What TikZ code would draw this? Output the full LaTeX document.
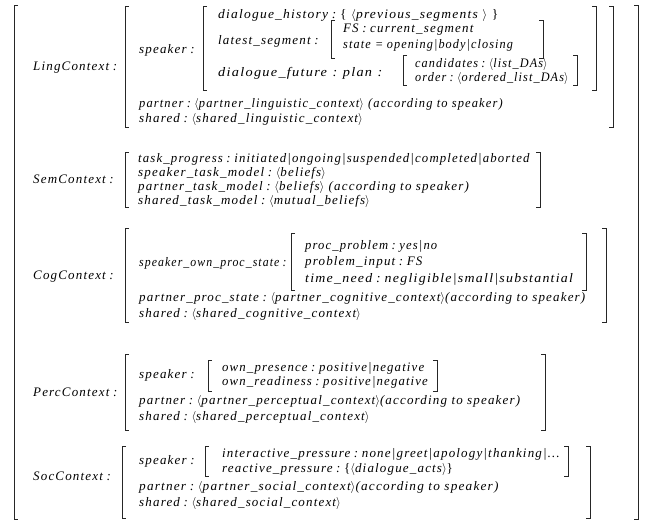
\documentclass[tikz,border=0pt]{standalone}
\usepackage{fontspec}
\usepackage{graphicx}
\setmainfont{Liberation Serif}
\newfontfamily\avmfont[LetterSpace=9]{Liberation Serif}
\newcommand\cl{\;:\;}
\newcommand\wcl{\hspace{5pt}:\hspace{5pt}}
\newcommand\la{$\langle$}
\newcommand\ra{$\rangle$}
\newcommand\sx[2]{\scalebox{#1}[1]{#2}}
\newcommand\lbr[3]{\draw[brk] (#1+4,#2) -- (#1,#2) -- (#1,#3) -- (#1+4,#3);}
\newcommand\rbr[3]{\draw[brk] (#1-4,#2) -- (#1,#2) -- (#1,#3) -- (#1-4,#3);}
\tikzset{
  lab/.style={anchor=base west, inner sep=0pt, font=\avmfont\itshape\fontsize{13}{15}\selectfont},
  brk/.style={line width=0.6pt, black!85}
}
\begin{document}
\begin{tikzpicture}[x=1pt,y=-1pt]
\useasboundingbox (0,0) rectangle (647,522);
% outer
\lbr{14}{5}{519}
\rbr{638}{5}{519}
% ---------- Ling
\node[lab] (ling) at (33,70) {LingContext\cl};
\lbr{125}{6}{127}\rbr{613}{6}{127}
\node[lab] (lsp) at (139,53) {speaker\cl};
\lbr{203}{6}{90}\rbr{596}{6}{90}
\node[lab] (dh) at (218,18) {\sx{1.04}{dialogue\_history\cl\textup{\{}\ \la previous\_segments\ \ra\ \textup{\}}}};
\node[lab] (ls) at (218,44) {latest\_segment\cl};
\lbr{331}{20}{58}\rbr{543}{20}{58}
\node[lab] (fs) at (343,32) {F\kern1pt S\cl current\_segment};
\node[lab] (st) at (343,48) {\sx{0.94}{state\ \textup{=}\ opening|body|closing}};
\node[lab] (df) at (218,76) {\sx{1.1}{dialogue\_future\wcl plan\wcl}};
\lbr{403}{55}{85}\rbr{577}{55}{85}
\node[lab] (cand) at (415,67) {\sx{0.94}{candidates\cl\la list\_DAs\ra}};
\node[lab] (ord) at (415,81) {\sx{0.94}{order\cl\la ordered\_list\_DAs\ra}};
\node[lab] (lp) at (139,107) {\sx{0.96}{partner\cl\la partner\_linguistic\_context\ra\ (according to speaker)}};
\node[lab] (lsh) at (139,122) {shared\cl\la shared\_linguistic\_context\ra};
% ---------- Sem
\node[lab] (sem) at (33,183) {SemContext\cl};
\lbr{125}{152}{207}\rbr{540}{152}{207}
\node[lab] (tp) at (138,162) {\sx{0.985}{task\_progress\cl initiated|ongoing|suspended|completed|aborted}};
\node[lab] (stm) at (138,176) {speaker\_task\_model\cl\la belie\kern1pt f\kern1pt s\ra};
\node[lab] (ptm) at (138,190) {partner\_task\_model\cl\la belie\kern1pt f\kern1pt s\ra\ (according to speaker)};
\node[lab] (shtm) at (138,204) {shared\_task\_model\cl\la mutual\_belie\kern1pt f\kern1pt s\ra};
% ---------- Cog
\node[lab] (cog) at (33,279) {CogContext\cl};
\lbr{125}{228}{322}\rbr{606}{228}{322}
\node[lab] (sops) at (139,266) {\sx{0.91}{speaker\_own\_proc\_state\cl}};
\lbr{291}{233}{290}\rbr{586}{233}{290}
\node[lab] (pp) at (305,249) {\sx{0.97}{proc\_problem\cl yes|no}};
\node[lab] (pi) at (305,265) {problem\_input\cl F\kern1pt S};
\node[lab] (tn) at (305,282) {\sx{1.07}{time\_need\cl negligible|small|substantial}};
\node[lab] (pps) at (139,301) {partner\_proc\_state\cl\la partner\_cognitive\_context\ra(according to speaker)};
\node[lab] (csh) at (139,317) {shared\cl\la shared\_cognitive\_context\ra};
% ---------- Perc
\node[lab] (perc) at (33,396) {PercContext\cl};
\lbr{125}{354}{430}\rbr{545}{354}{430}
\node[lab] (psp) at (139,378) {speaker\cl};
\lbr{208}{360}{391}\rbr{437}{360}{391}
\node[lab] (opr) at (222,371) {\sx{0.985}{own\_presence\cl positive|negative}};
\node[lab] (ord2) at (222,385) {\sx{0.98}{own\_readiness\cl positive|negative}};
\node[lab] (pp2) at (139,404) {partner\cl\la partner\_perceptual\_context\ra(according to speaker)};
\node[lab] (psh) at (139,420) {shared\cl\la shared\_perceptual\_context\ra};
% ---------- Soc
\node[lab] (soc) at (33,480) {SocContext\cl};
\lbr{122}{446}{518}\rbr{590}{446}{518}
\node[lab] (ssp) at (139,464) {speaker\cl};
\lbr{205}{446}{476}\rbr{568}{446}{476}
\node[lab] (ip) at (222,457) {interactive\_pressure\cl none|greet|apology|thanking|\dots};
\node[lab] (rp) at (222,472) {reactive\_pressure\cl\textup{\{}\la dialogue\_acts\ra\textup{\}}};
\node[lab] (sp2) at (139,490) {\sx{1.02}{partner\cl\la partner\_social\_context\ra(according to speaker)}};
\node[lab] (ssh) at (139,506) {shared\cl\la shared\_social\_context\ra};
\end{tikzpicture}
\end{document}
